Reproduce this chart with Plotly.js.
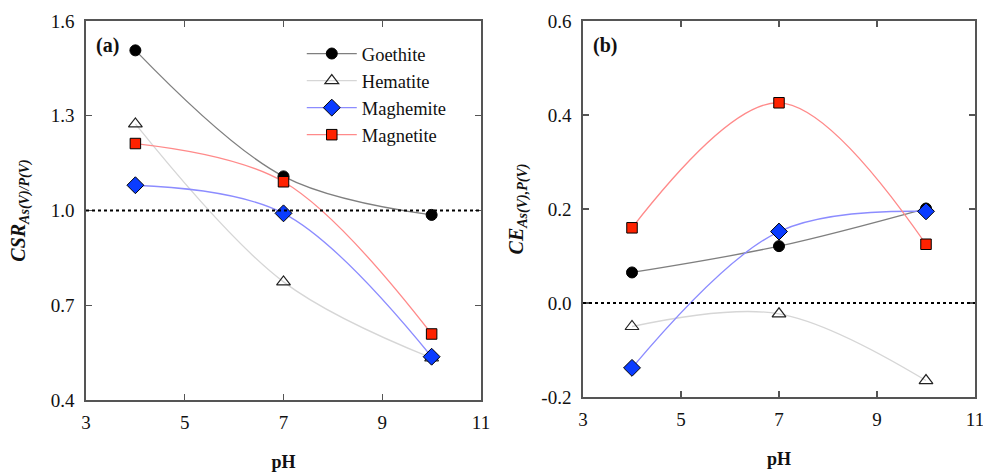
<!DOCTYPE html>
<html>
<head>
<meta charset="utf-8">
<script src="https://cdn.plot.ly/plotly-3.0.1.min.js"></script>
<style>html,body{margin:0;padding:0;background:#fff;}#chart{width:983px;height:473px;}</style>
</head>
<body>
<div id="chart"></div>
<script>
const pH = [4, 7, 10];
const seriesNames = ['Goethite', 'Hematite', 'Maghemite', 'Magnetite'];
// Panel (a): CSR As(V)/P(V)
const csrGoethite = [1.507, 1.108, 0.986];
const csrHematite = [1.274, 0.774, 0.533];
const csrMaghemite = [1.080, 0.991, 0.537];
const csrMagnetite = [1.212, 1.091, 0.609];
// Panel (b): CE As(V),P(V)
const ceGoethite = [0.065, 0.121, 0.201];
const ceHematite = [-0.050, -0.023, -0.165];
const ceMaghemite = [-0.138, 0.152, 0.195];
const ceMagnetite = [0.160, 0.426, 0.125];
const xTicks = [3, 5, 7, 9, 11];
const yTicksA = [0.4, 0.7, 1.0, 1.3, 1.6];
const yTickTextA = ['0.4', '0.7', '1.0', '1.3', '1.6'];
const yTicksB = [-0.2, 0.0, 0.2, 0.4, 0.6];
const yTickTextB = ['-0.2', '0.0', '0.2', '0.4', '0.6'];
const refA = 1.0, refB = 0.0;

const styles = {
  Goethite: {line: '#7f7f7f', marker: {symbol: 'circle', size: 11, color: '#000000', line: {color: '#000', width: 1}}},
  Hematite: {line: '#d6d6d6', marker: {symbol: 'triangle-up-open', size: 12, color: '#222', line: {color: '#222', width: 1.2}}},
  Maghemite: {line: '#8c8cff', marker: {symbol: 'diamond', size: 13, color: '#0a3cff', line: {color: '#000', width: 1}}},
  Magnetite: {line: '#ff8a8a', marker: {symbol: 'square', size: 10.5, color: '#ff2200', line: {color: '#000', width: 1}}}
};

function mk(name, y, xa, ya, show) {
  const s = styles[name];
  return {
    x: pH, y: y, xaxis: xa, yaxis: ya, name: name, showlegend: show,
    type: 'scatter', mode: 'lines+markers',
    line: {shape: 'spline', smoothing: 1.0, color: s.line, width: 1.3},
    marker: s.marker
  };
}

const serif = 'Liberation Serif';
const data = [
  mk('Goethite', csrGoethite, 'x', 'y', true),
  mk('Hematite', csrHematite, 'x', 'y', true),
  mk('Maghemite', csrMaghemite, 'x', 'y', true),
  mk('Magnetite', csrMagnetite, 'x', 'y', true),
  mk('Goethite', ceGoethite, 'x2', 'y2', false),
  mk('Hematite', ceHematite, 'x2', 'y2', false),
  mk('Maghemite', ceMaghemite, 'x2', 'y2', false),
  mk('Magnetite', ceMagnetite, 'x2', 'y2', false)
];

function xax(domain, anchor) {
  return {
    domain: domain, anchor: anchor, range: [3, 11], tickvals: xTicks,
    ticks: 'inside', ticklen: 6, tickwidth: 1.2, tickcolor: '#555', mirror: 'ticks',
    showline: true, linecolor: '#555', linewidth: 1.8, showgrid: false, zeroline: false,
    tickfont: {family: serif, size: 19, color: '#111'}, ticklabelstandoff: 4,
    ticklabeloverflow: 'allow',
    title: {text: '<b>pH</b>', font: {family: serif, size: 18, color: '#111'}, standoff: 24}
  };
}
function yax(domain, anchor, range, tv, tt, title, standoff) {
  return {
    domain: domain, anchor: anchor, range: range, tickvals: tv, ticktext: tt,
    ticks: 'inside', ticklen: 6, tickwidth: 1.2, tickcolor: '#555', mirror: 'ticks',
    showline: true, linecolor: '#555', linewidth: 1.8, showgrid: false, zeroline: false,
    tickfont: {family: serif, size: 19, color: '#111'}, ticklabelstandoff: 6,
    title: {text: title, font: {family: serif, size: 20, color: '#111'}, standoff: standoff}
  };
}

const layout = {
  width: 983, height: 473,
  margin: {l: 0, r: 0, t: 0, b: 0},
  paper_bgcolor: '#fff', plot_bgcolor: '#fff',
  font: {family: serif},
  showlegend: true,
  legend: {
    x: 0.307, y: 1 - 35/473, xanchor: 'left', yanchor: 'top',
    font: {family: serif, size: 18.5, color: '#111'},
    bgcolor: 'rgba(0,0,0,0)', itemwidth: 50, tracegroupgap: 0
  },
  xaxis: xax([86/983, 481/983], 'y'),
  yaxis: yax([1 - 400/473, 1 - 21/473], 'x', [0.4, 1.6], yTicksA, yTickTextA,
    '<b><i>CSR<sub>As(V)/P(V)</sub></i></b>', 20),
  xaxis2: xax([583/983, 975/983], 'y2'),
  yaxis2: yax([1 - 397/473, 1 - 21/473], 'x2', [-0.2, 0.6], yTicksB, yTickTextB,
    '<b><i>CE<sub>As(V),P(V)</sub></i></b>', 12),
  shapes: [
    {type: 'line', xref: 'x domain', yref: 'y', x0: 0, x1: 1, y0: refA, y1: refA,
     line: {color: '#000', width: 2, dash: 'dot'}},
    {type: 'line', xref: 'x2 domain', yref: 'y2', x0: 0, x1: 1, y0: refB, y1: refB,
     line: {color: '#000', width: 2, dash: 'dot'}}
  ],
  annotations: [
    {text: '<b>(a)</b>', xref: 'x domain', yref: 'y domain', x: 0.02, y: 0.935,
     xanchor: 'left', yanchor: 'middle', showarrow: false, font: {family: serif, size: 20, color: '#111'}},
    {text: '<b>(b)</b>', xref: 'x2 domain', yref: 'y2 domain', x: 0.02, y: 0.935,
     xanchor: 'left', yanchor: 'middle', showarrow: false, font: {family: serif, size: 20, color: '#111'}}
  ]
};

Plotly.newPlot('chart', data, layout, {displayModeBar: false, staticPlot: true});
</script>
</body>
</html>
